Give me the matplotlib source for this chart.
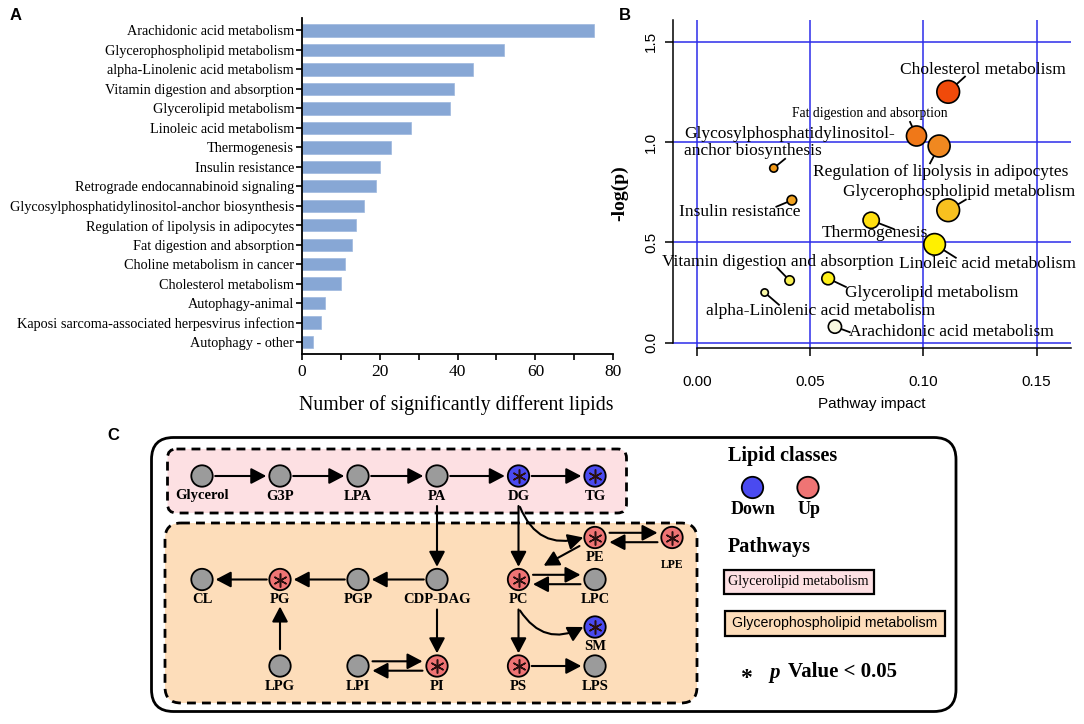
import matplotlib
matplotlib.use('Agg')
import matplotlib.pyplot as plt
from matplotlib.patches import FancyBboxPatch, Circle, Rectangle
from matplotlib.colors import LinearSegmentedColormap, Normalize
import numpy as np

W, H = 1084, 724
SERIF = 'Liberation Serif'
SANS = 'Liberation Sans'

# ---------------- panel A data ----------------
pathways_a = ['Arachidonic acid metabolism', 'Glycerophospholipid metabolism',
              'alpha-Linolenic acid metabolism', 'Vitamin digestion and absorption',
              'Glycerolipid metabolism', 'Linoleic acid metabolism', 'Thermogenesis',
              'Insulin resistance', 'Retrograde endocannabinoid signaling',
              'Glycosylphosphatidylinositol-anchor biosynthesis',
              'Regulation of lipolysis in adipocytes', 'Fat digestion and absorption',
              'Choline metabolism in cancer', 'Cholesterol metabolism', 'Autophagy-animal',
              'Kaposi sarcoma-associated herpesvirus infection', 'Autophagy - other']
lipid_counts = [75, 52, 44, 39, 38, 28, 23, 20, 19, 16, 14, 13, 11, 10, 6, 5, 3]

# ---------------- panel B data ----------------
pathways_b = ['Cholesterol metabolism', 'Fat digestion and absorption',
              'Regulation of lipolysis in adipocytes',
              'Glycosylphosphatidylinositol-\nanchor biosynthesis',
              'Glycerophospholipid metabolism', 'Insulin resistance', 'Thermogenesis',
              'Linoleic acid metabolism', 'Vitamin digestion and absorption',
              'Glycerolipid metabolism', 'alpha-Linolenic acid metabolism',
              'Arachidonic acid metabolism']
impact = [0.111, 0.097, 0.107, 0.034, 0.111, 0.042, 0.077, 0.105, 0.041, 0.058, 0.030, 0.061]
neg_log_p = [1.25, 1.03, 0.98, 0.87, 0.66, 0.71, 0.61, 0.49, 0.31, 0.32, 0.25, 0.08]

# label placement (text x, text y, leader end x, leader end y, ha, fontsize)
label_layout = [
    (0.1262, 1.359, 0.1187, 1.329, 'center', 12.5),
    (0.0763, 1.144, 0.0940, 1.104, 'center', 9.8),
    (0.1076, 0.850, 0.1028, 0.890, 'center', 12.5),
    (-0.0057, 0.997, 0.0393, 0.919, 'left', 12.5),
    (0.1156, 0.750, 0.1191, 0.715, 'center', 12.5),
    (0.0190, 0.650, 0.0348, 0.676, 'center', 12.5),
    (0.0785, 0.545, 0.0873, 0.565, 'center', 12.5),
    (0.1284, 0.391, 0.1147, 0.421, 'center', 12.5),
    (0.0357, 0.401, 0.0353, 0.376, 'center', 12.5),
    (0.1037, 0.246, 0.0662, 0.276, 'center', 12.5),
    (0.0547, 0.156, 0.0366, 0.186, 'center', 12.5),
    (0.1125, 0.051, 0.0679, 0.051, 'center', 12.5),
]

# ---------------- panel C data ----------------
# name: (column, row, status)
nodes = {
    'Glycerol': (0, 0, 'none'), 'G3P': (1, 0, 'none'), 'LPA': (2, 0, 'none'),
    'PA': (3, 0, 'none'), 'DG': (4, 0, 'down'), 'TG': (5, 0, 'down'),
    'PE': (5, 1, 'up'), 'LPE': (6, 1, 'up'),
    'CL': (0, 2, 'none'), 'PG': (1, 2, 'up'), 'PGP': (2, 2, 'none'),
    'CDP-DAG': (3, 2, 'none'), 'PC': (4, 2, 'up'), 'LPC': (5, 2, 'none'),
    'SM': (5, 3, 'down'),
    'LPG': (1, 4, 'none'), 'LPI': (2, 4, 'none'), 'PI': (3, 4, 'up'),
    'PS': (4, 4, 'up'), 'LPS': (5, 4, 'none'),
}
# (source, target, style)
edges = [
    ('Glycerol', 'G3P', 'plain'), ('G3P', 'LPA', 'plain'), ('LPA', 'PA', 'plain'),
    ('PA', 'DG', 'plain'), ('DG', 'TG', 'plain'),
    ('PA', 'CDP-DAG', 'below'), ('DG', 'PC', 'below'), ('DG', 'PE', 'curve'),
    ('CDP-DAG', 'PGP', 'plain'), ('PGP', 'PG', 'plain'), ('PG', 'CL', 'plain'),
    ('LPG', 'PG', 'up_to_label'), ('CDP-DAG', 'PI', 'below'),
    ('LPI', 'PI', 'top'), ('PI', 'LPI', 'bottom'),
    ('PE', 'LPE', 'top'), ('LPE', 'PE', 'bottom'),
    ('PC', 'LPC', 'top'), ('LPC', 'PC', 'bottom'),
    ('PE', 'PC', 'diag'), ('PC', 'PS', 'below'), ('PC', 'SM', 'curve'),
    ('PS', 'LPS', 'plain'),
]

col_x = [202, 280, 358, 437, 518.5, 595, 672]
row_y = [476, 537.5, 579.5, 627, 666]
node_colors = {'none': '#9B9B9B', 'up': '#EF7474', 'down': '#4A4AF0'}
R = 10.7

fig = plt.figure(figsize=(W / 100, H / 100), dpi=100)


def px_axes(x0, y0, x1, y1):
    return fig.add_axes([x0 / W, 1 - y1 / H, (x1 - x0) / W, (y1 - y0) / H])


# ================= panel A =================
axA = px_axes(301.7, 18.3, 613.3, 354)
ypos = np.arange(len(pathways_a))
axA.barh(ypos, lipid_counts, height=0.64, color='#87A7D5', edgecolor='#9DB8DE', linewidth=0.5)
axA.set_xlim(0, 80)
axA.set_ylim(16.605, -0.616)
axA.set_yticks(ypos)
axA.set_yticklabels(pathways_a, fontfamily=SERIF, fontsize=10.3)
axA.set_xticks([0, 20, 40, 60, 80])
axA.set_xticks([10, 30, 50, 70], minor=True)
axA.set_xticklabels(['0', '20', '40', '60', '80'], fontfamily=SERIF, fontsize=12.5)
axA.tick_params(axis='y', length=4, width=1.2, pad=1.5)
axA.tick_params(axis='x', which='both', length=4, width=1.2, pad=3)
for s in ['top', 'right']:
    axA.spines[s].set_visible(False)
for s in ['left', 'bottom']:
    axA.spines[s].set_linewidth(1.3)
fig.text(456 / W, 1 - 405 / H, 'Number of significantly different lipids',
         fontfamily=SERIF, fontsize=14.3, ha='center', va='center')

# ================= panel B =================
axB = px_axes(673.3, 20, 1071, 348.3)
axB.set_xlim(-0.01033, 0.1652)
axB.set_ylim(-0.0279, 1.608)
axB.set_xticks([0, 0.05, 0.10, 0.15])
axB.set_xticklabels(['0.00', '0.05', '0.10', '0.15'], fontfamily=SANS, fontsize=11)
axB.set_yticks([0, 0.5, 1.0, 1.5])
axB.set_yticklabels(['0.0', '0.5', '1.0', '1.5'], fontfamily=SANS, fontsize=11,
                    rotation=90, va='center')
axB.grid(True, color='#2C2CEA', linewidth=1.1)
axB.set_axisbelow(True)
axB.tick_params(axis='both', length=6, width=1.1)
axB.tick_params(axis='x', pad=13)
axB.tick_params(axis='y', pad=5)
for s in ['top', 'right']:
    axB.spines[s].set_visible(False)
axB.spines['left'].set_bounds(0, 1.608)
axB.spines['bottom'].set_bounds(0, 0.1652)
for s in ['left', 'bottom']:
    axB.spines[s].set_linewidth(1.1)

heat = LinearSegmentedColormap.from_list('heat', [
    (0.0, '#F8F8E0'), (0.145, '#F8F8A8'), (0.197, '#F8F050'), (0.205, '#FFF010'),
    (0.35, '#FFF000'), (0.45, '#FFE010'), (0.496, '#F8C020'), (0.538, '#F0A020'),
    (0.675, '#F09818'), (0.77, '#F08820'), (0.812, '#F07818'), (1.0, '#F04A0A')])
norm = Normalize(vmin=min(neg_log_p), vmax=max(neg_log_p))
radius_px = np.array(impact) * 95 + 0.8
sizes = (2 * radius_px * 0.72) ** 2

for (tx, ty, lx, ly, ha, fs), x, y, name in zip(label_layout, impact, neg_log_p, pathways_b):
    axB.plot([x, lx], [y, ly], color='black', lw=1.3, zorder=3, solid_capstyle='butt')
    axB.text(tx, ty, name, fontfamily=SERIF, fontsize=fs, ha=ha, va='center',
             linespacing=1.1, zorder=5)
axB.scatter(impact, neg_log_p, s=sizes, c=neg_log_p, cmap=heat, norm=norm,
            edgecolors='black', linewidths=1.2, zorder=4)
axB.set_xlabel('Pathway impact', fontfamily=SANS, fontsize=11, labelpad=6)
fig.text(620 / W, 1 - 193 / H, '-log(p)', fontfamily=SERIF, fontsize=14,
         fontweight='bold', rotation=90, ha='center', va='center')

# ================= panel C =================
axC = px_axes(0, 415, W, H)
axC.set_xlim(0, W)
axC.set_ylim(H, 415)
axC.axis('off')

axC.add_patch(FancyBboxPatch((151.5, 437.5), 804.5, 274, boxstyle='round,pad=0,rounding_size=22',
                             facecolor='white', edgecolor='black', lw=2.0, zorder=0))
axC.add_patch(FancyBboxPatch((167.5, 449), 459, 64, boxstyle='round,pad=0,rounding_size=9',
                             facecolor='#FDE0E3', edgecolor='black', lw=2.0,
                             linestyle=(0, (3.2, 2.2)), zorder=1))
axC.add_patch(FancyBboxPatch((165, 523), 532, 180, boxstyle='round,pad=0,rounding_size=16',
                             facecolor='#FDDDBA', edgecolor='black', lw=2.0,
                             linestyle=(0, (3.2, 2.2)), zorder=1))


def pos(name):
    c, r, _ = nodes[name]
    return np.array([col_x[c], row_y[r]], dtype=float)


def draw_arrow(p0, p1, rad=0.0):
    axC.annotate('', xy=p1, xytext=p0, zorder=2,
                 arrowprops=dict(arrowstyle='-|>,head_length=0.8,head_width=0.42',
                                 mutation_scale=11.5, lw=1.5, color='black',
                                 shrinkA=0, shrinkB=0,
                                 connectionstyle='arc3,rad=%s' % rad))


for src, dst, style in edges:
    a, b = pos(src), pos(dst)
    d = (b - a) / np.linalg.norm(b - a)
    if style == 'plain':
        draw_arrow(a + d * (R + 2.5), b - d * (R + 3))
    elif style == 'below':
        draw_arrow(a + np.array([0, 30]), b - d * (R + 2))
    elif style == 'up_to_label':
        draw_arrow(a + d * (R + 6), b + np.array([0, 27]))
    elif style == 'curve':
        draw_arrow(a + np.array([1.5, 31]), b - np.array([R + 1, 0]), rad=0.45)
    elif style == 'diag':
        draw_arrow(a + d * (R + 7), b - d * (R + 18))
    elif style in ('top', 'bottom'):
        off = np.array([0, -4.7 if style == 'top' else 4.7])
        draw_arrow(a + d * 14.5 + off, b - d * 14.5 + off)

for name, (c, r, status) in nodes.items():
    x, y = col_x[c], row_y[r]
    axC.add_patch(Circle((x, y), R, facecolor=node_colors[status], edgecolor='black',
                         lw=1.3, zorder=3))
    if status != 'none':
        axC.plot(x, y, marker=(6, 2, 0), ms=10, mew=1.1, color='#2A1010', zorder=4)
    small = name == 'LPE'
    axC.text(x, y + (27 if small else 20), name, fontfamily=SERIF, fontweight='bold',
             fontsize=8.5 if small else 10.5, ha='center', va='center', zorder=4)

# legend
axC.text(728, 456, 'Lipid classes', fontfamily=SERIF, fontweight='bold', fontsize=14.5,
         ha='left', va='center')
for x, status, lab in [(752.5, 'down', 'Down'), (808, 'up', 'Up')]:
    axC.add_patch(Circle((x, 487.5), R, facecolor=node_colors[status], edgecolor='black',
                         lw=1.3, zorder=3))
    axC.text(x + 1, 509, lab, fontfamily=SERIF, fontweight='bold', fontsize=13,
             ha='center', va='center')
axC.text(728, 547, 'Pathways', fontfamily=SERIF, fontweight='bold', fontsize=14.5,
         ha='left', va='center')
axC.add_patch(Rectangle((723.5, 569.5), 150, 24.5, facecolor='#FDE0E3', edgecolor='black',
                        lw=1.6, zorder=2))
axC.text(798.5, 582, 'Glycerolipid metabolism', fontfamily=SERIF, fontsize=10.2,
         ha='center', va='center', zorder=3)
axC.add_patch(Rectangle((724.5, 611), 220.5, 24.5, facecolor='#FDDDBA', edgecolor='black',
                        lw=1.6, zorder=2))
axC.text(834.7, 623.5, 'Glycerophospholipid metabolism', fontfamily=SANS, fontsize=10.2,
         ha='center', va='center', zorder=3)
axC.text(746, 678, '*', fontfamily=SERIF, fontweight='bold', fontsize=17,
         ha='center', va='center')
axC.text(775, 673, 'p', fontfamily=SERIF, fontweight='bold', fontstyle='italic',
         fontsize=15, ha='center', va='center')
axC.text(788, 672, 'Value < 0.05', fontfamily=SERIF, fontweight='bold', fontsize=15,
         ha='left', va='center')

# panel letters
for lx, ly, letter in [(16, 15, 'A'), (625, 15, 'B'), (113, 436, 'C')]:
    fig.text(lx / W, 1 - ly / H, letter, fontfamily=SANS, fontweight='bold', fontsize=12,
             ha='center', va='center')

fig.savefig('out.png', dpi=100)
